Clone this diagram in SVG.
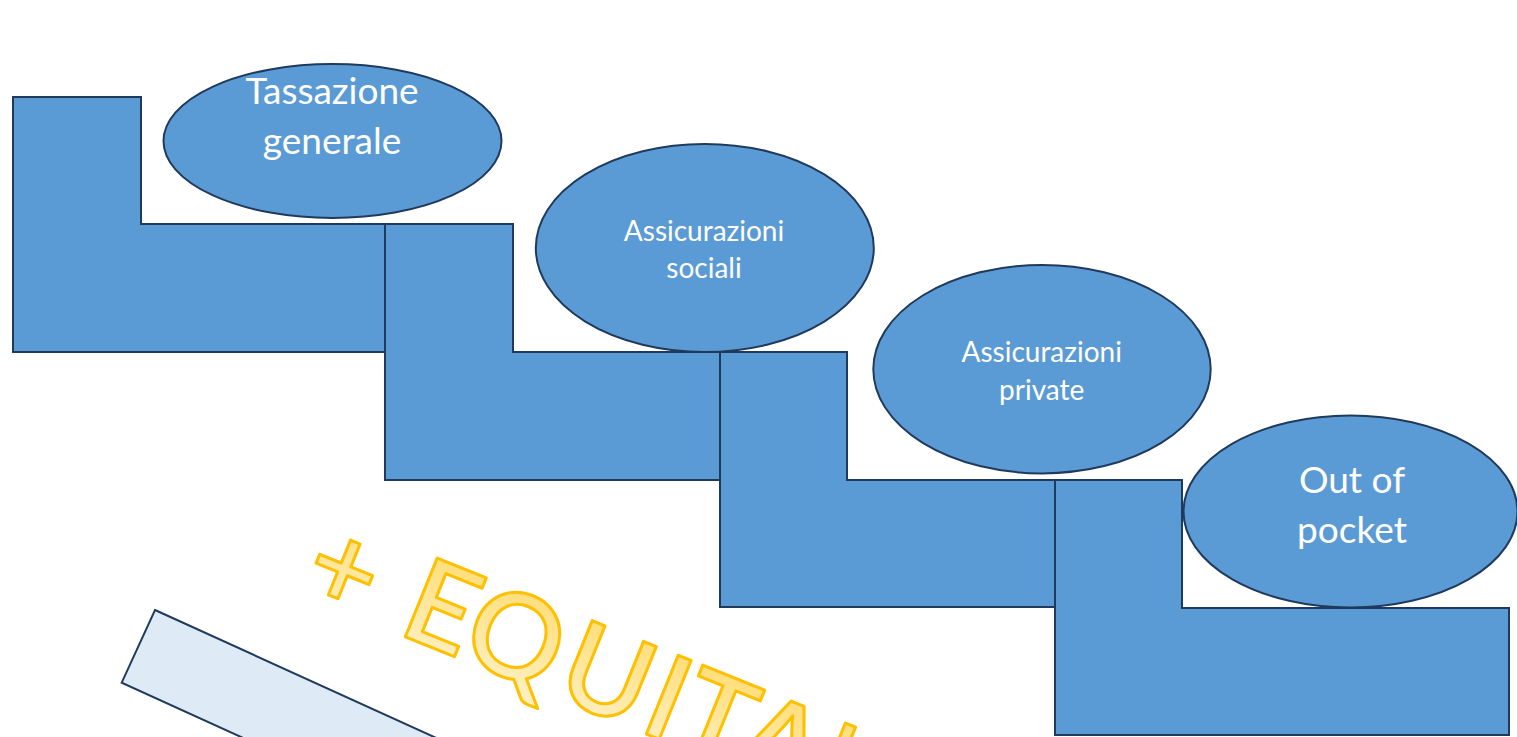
<svg xmlns="http://www.w3.org/2000/svg" width="1517" height="737" viewBox="0 0 1517 737">
  <style>
    .step { fill: #5B9BD5; stroke: #203A5C; stroke-width: 2; stroke-linejoin: miter; }
    .bubble { fill: #5B9BD5; stroke: #203A5C; stroke-width: 2; }
    .lbl { font-family: Lato, "Open Sans", "Liberation Sans", sans-serif; fill: #FFFFFF; text-anchor: middle; }
    .big { font-size: 37px; }
    .small { font-size: 28px; }
    .word { font-family: Lato, "Open Sans", "Liberation Sans", sans-serif; font-size: 118px; font-weight: 600; text-anchor: middle; fill: url(#gold); stroke: #FFC000; stroke-width: 3; stroke-linejoin: round; }
  </style>
  <defs>
    <linearGradient id="gold" x1="0" y1="0" x2="0" y2="1">
      <stop offset="0" stop-color="#FFD966"/>
      <stop offset="1" stop-color="#FFF2CC"/>
    </linearGradient>
  </defs>

  <rect width="1517" height="737" fill="#FFFFFF"/>

  <!-- staircase steps -->
  <g id="steps">
    <path id="step1" class="step" d="M13 97 H141 V224 H467 V352 H13 Z"/>
    <path id="step2" class="step" d="M385 224 H513 V352 H840 V480 H385 Z"/>
    <path id="step3" class="step" d="M720 352 H847 V480 H1175 V607 H720 Z"/>
    <path id="step4" class="step" d="M1055 480 H1182 V608 H1509 V735 H1055 Z"/>
  </g>

  <g id="connectors"></g>

  <g id="tassazione">
    <ellipse class="bubble" cx="332.5" cy="141" rx="169" ry="77"/>
    <text class="lbl big" x="332" y="103.5">Tassazione</text>
    <text class="lbl big" x="332" y="153.5">generale</text>
  </g>

  <g id="sociali">
    <ellipse class="bubble" cx="704.8" cy="248" rx="169" ry="104"/>
    <text class="lbl small" x="704" y="240.7">Assicurazioni</text>
    <text class="lbl small" x="704" y="277.7">sociali</text>
  </g>

  <g id="private">
    <ellipse class="bubble" cx="1042" cy="369.2" rx="168.7" ry="104.2"/>
    <text class="lbl small" x="1041.7" y="361.7">Assicurazioni</text>
    <text class="lbl small" x="1041.7" y="400">private</text>
  </g>

  <g id="outofpocket">
    <ellipse class="bubble" cx="1350.5" cy="511.5" rx="167" ry="96"/>
    <text class="lbl big" x="1352" y="492.7">Out of</text>
    <text class="lbl big" x="1352" y="543">pocket</text>
  </g>

  <!-- slanted bar -->
  <g id="bar">
    <polygon points="155,610 1065,1024 1031.7,1096.7 121.7,682.7" fill="#DEEBF7" stroke="#203A5C" stroke-width="2"/>
  </g>

  <!-- slanted headline -->
  <g id="equita" transform="translate(402.8 637.3) rotate(22)">
    <text class="word" y="-1.5" x="-79.7 26 105 204 269 322 391 448">+EQUITA'</text>
  </g>
</svg>
